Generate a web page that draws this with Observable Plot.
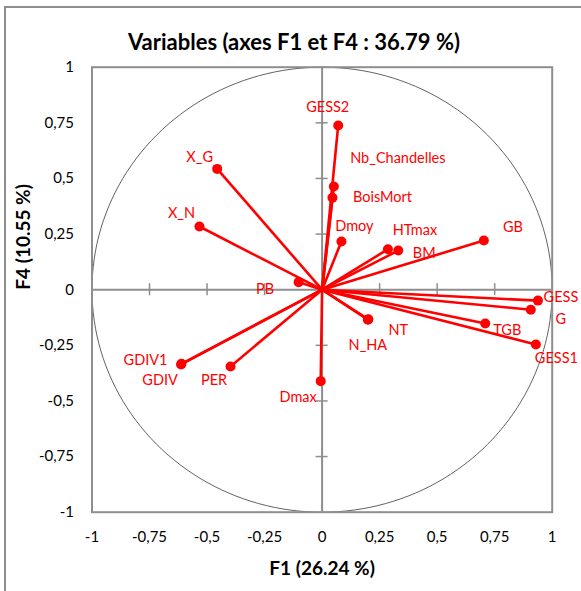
<!DOCTYPE html>
<html>
<head>
<meta charset="utf-8">
<script src="https://cdn.jsdelivr.net/npm/d3@7"></script>
<script src="https://cdn.jsdelivr.net/npm/@observablehq/plot@0.6"></script>
<style>
  html, body { margin: 0; padding: 0; background: #fff; overflow: hidden; }
  #wrap { position: relative; width: 581px; height: 591px; font-family: Lato, "Open Sans", sans-serif; }
  #border { position: absolute; left: 4px; top: 6px; width: 700px; height: 700px; border-left: 2px solid #8e8e8e; border-top: 2px solid #8e8e8e; }
  #title { position: absolute; left: 0; top: 28px; width: 588px; text-align: center; font-weight: bold; font-size: 22px; color: #000; line-height: 28px; }
  #chart { position: absolute; left: 0; top: 0; }
</style>
</head>
<body>
<div id="wrap">
  <div id="border"></div>
  <div id="chart"></div>
  <div id="title">Variables (axes F1 et F4 : 36.79 %)</div>
</div>
<script>
// ---- data ----
const variables = ["GESS2","Nb_Chandelles","BoisMort","Dmoy","HTmax","BM","GB","X_G","X_N","PB","GESS","G","TGB","GESS1","NT","N_HA","GDIV1","GDIV","PER","Dmax"];
const f1 = [0.070, 0.051, 0.045, 0.084, 0.286, 0.331, 0.703, -0.456, -0.533, -0.102, 0.938, 0.907, 0.709, 0.929, 0.201, 0.199, -0.611, -0.613, -0.398, -0.006];
const f4 = [0.738, 0.464, 0.413, 0.217, 0.182, 0.176, 0.221, 0.543, 0.284, 0.034, -0.049, -0.090, -0.152, -0.246, -0.133, -0.135, -0.333, -0.336, -0.345, -0.411];
const tickValues = [-1, -0.75, -0.5, -0.25, 0, 0.25, 0.5, 0.75, 1];
const crossTicks = [-0.75, -0.5, -0.25, 0.25, 0.5, 0.75];
const titleX = "F1 (26.24 %)";
const titleY = "F4 (10.55 %)";

// ---- layout (label offsets in pixels) ----
const labelOffset = {
  GESS2: [-10.5, -18], Nb_Chandelles: [64, -28], BoisMort: [50, 0], Dmoy: [13, -15],
  HTmax: [27, -19], BM: [26, 3], GB: [29, -13], X_G: [-17.5, -12], X_N: [-18, -13],
  PB: [-33.5, 7.5], GESS: [23, -3], G: [30, 10], TGB: [22, 7], GESS1: [20.5, 14],
  NT: [30, 11], N_HA: [0, 26], GDIV1: [-36, -3], GDIV: [-21, 16], PER: [-16.5, 14], Dmax: [-22.6, 16]
};

const rows = variables.map((name, i) => ({name, x: f1[i], y: f4[i]}));
const circle = d3.range(0, 361, 2).map(a => ({x: Math.cos(a * Math.PI / 180), y: Math.sin(a * Math.PI / 180)}));
const fmt = d => String(d).replace(".", ",");
const red = "#ff0000";
const grey = "#8e8e8e";

const labelMarks = rows.map(r => Plot.text([r], {
  x: "x", y: "y", text: "name",
  dx: labelOffset[r.name][0], dy: labelOffset[r.name][1],
  fill: red, fontSize: 14.5, textAnchor: "middle", lineAnchor: "middle"
}));

const chart = Plot.plot({
  width: 581,
  height: 591,
  marginLeft: 91.5,
  marginRight: 29.3,
  marginTop: 66.7,
  marginBottom: 79.3,
  x: {domain: [-1, 1]},
  y: {domain: [-1, 1]},
  style: {fontFamily: "Lato, 'Open Sans', sans-serif", fontSize: "15px", color: "#000", background: "transparent", overflow: "visible"},
  marks: [
    Plot.line(circle, {x: "x", y: "y", stroke: "#3a3a3a", strokeWidth: 0.8}),
    Plot.ruleX([0], {stroke: grey, strokeWidth: 2}),
    Plot.ruleY([0], {stroke: grey, strokeWidth: 2}),
    Plot.ruleX(crossTicks, {x: d => d, y1: 0, y2: 0, insetTop: -6, insetBottom: -6, stroke: grey, strokeWidth: 1.5}),
    Plot.ruleY(crossTicks, {y: d => d, x1: 0, x2: 0, insetLeft: -6, insetRight: -6, stroke: grey, strokeWidth: 1.5}),
    Plot.frame({stroke: grey, strokeWidth: 2}),
    Plot.axisX({ticks: tickValues, tickFormat: fmt, tickSize: 0, tickPadding: 19, label: null, fill: "#000"}),
    Plot.axisY({ticks: tickValues, tickFormat: fmt, tickSize: 0, tickPadding: 18, label: null, fill: "#000"}),
    Plot.link(rows, {x1: () => 0, y1: () => 0, x2: "x", y2: "y", stroke: red, strokeWidth: 2.6}),
    Plot.dot(rows, {x: "x", y: "y", r: 5, fill: red, stroke: red, strokeWidth: 0}),
    ...labelMarks,
    Plot.text([titleX], {frameAnchor: "bottom", dy: 56.3, text: d => d, fontWeight: "bold", fontSize: 19, lineAnchor: "middle", fill: "#000"}),
    Plot.text([titleY], {frameAnchor: "left", dx: -68.5, rotate: -90, text: d => d, fontWeight: "bold", fontSize: 19, lineAnchor: "middle", fill: "#000"})
  ]
});
document.getElementById("chart").appendChild(chart);
</script>
</body>
</html>
